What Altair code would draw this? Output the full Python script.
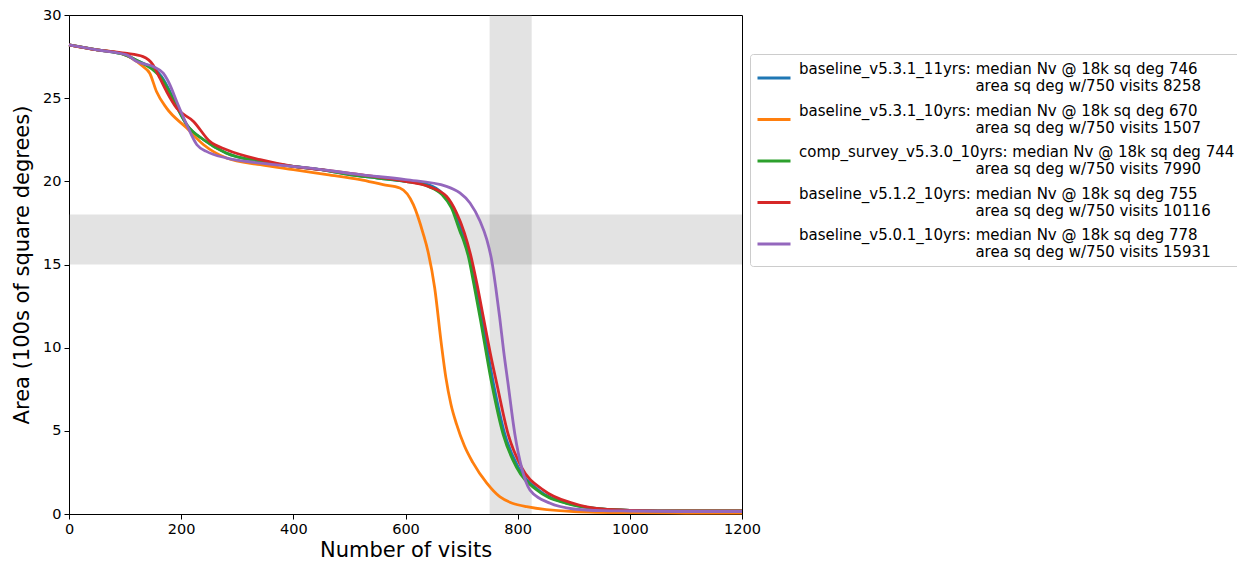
import altair as alt
import pandas as pd

# ---- data ----
names = ["baseline_v5.3.1_11yrs", "baseline_v5.3.1_10yrs", "comp_survey_v5.3.0_10yrs",
         "baseline_v5.1.2_10yrs", "baseline_v5.0.1_10yrs"]
median_nv = [746, 670, 744, 755, 778]
area_750 = [8258, 1507, 7990, 10116, 15931]
colors = ["#1f77b4", "#ff7f0e", "#2ca02c", "#d62728", "#9467bd"]

visits_blue = [0, 50, 100, 125, 150, 165, 180, 195, 210, 240, 280, 340, 400, 450, 500, 550, 600,
               640, 668, 685, 700, 707, 715, 725, 736, 757, 777, 801, 837, 890, 950, 1000, 1100, 1200]
area_blue = [28.2, 27.9, 27.6, 27.2, 26.8, 26.3, 25.4, 24.3, 23.4, 22.5, 21.7, 21.2, 20.9, 20.7, 20.4, 20.2, 20.0,
             19.8, 19.2, 18.4, 17.0, 16.4, 15.5, 13.8, 11.8, 7.8, 4.8, 2.8, 1.44, 0.64, 0.3, 0.22, 0.18, 0.18]

visits_orange = [0, 50, 91, 132, 144, 156, 174, 210, 240, 281, 341, 400, 460, 519, 560, 590, 614, 632,
                 640, 652, 664, 672, 681, 691, 705, 720, 745, 768, 816, 900, 1000, 1100, 1200]
area_orange = [28.2, 27.9, 27.7, 26.9, 26.5, 25.4, 24.4, 23.2, 22.2, 21.4, 21.0, 20.7, 20.4, 20.1, 19.8, 19.6, 18.6, 16.8,
               15.8, 13.6, 10.2, 8.2, 6.6, 5.4, 4.1, 3.1, 1.85, 1.04, 0.44, 0.15, 0.08, 0.06, 0.06]

visits_green = [0, 50, 100, 125, 150, 165, 180, 195, 210, 240, 280, 340, 400, 450, 500, 550, 600,
                640, 665, 682, 697, 704, 712, 722, 733, 754, 774, 798, 834, 887, 950, 1000, 1100, 1200]
area_green = [28.2, 27.9, 27.6, 27.2, 26.7, 26.2, 25.3, 24.3, 23.4, 22.5, 21.7, 21.2, 20.9, 20.7, 20.4, 20.2, 20.0,
              19.7, 19.2, 18.4, 17.0, 16.4, 15.5, 13.8, 11.8, 7.8, 4.8, 2.8, 1.44, 0.64, 0.3, 0.22, 0.18, 0.18]

visits_red = [0, 50, 100, 132, 150, 162, 174, 192, 222, 251, 281, 341, 400, 450, 519, 600, 640, 673,
              691, 705, 716, 727, 739, 751, 763, 783, 807, 846, 899, 950, 1000, 1100, 1200]
area_red = [28.2, 27.9, 27.7, 27.5, 27.0, 26.2, 25.4, 24.4, 23.6, 22.4, 21.9, 21.3, 20.9, 20.7, 20.4, 20.0, 19.7, 19.1,
            18.1, 16.9, 15.6, 13.9, 11.8, 9.7, 7.8, 4.8, 2.8, 1.44, 0.64, 0.3, 0.22, 0.18, 0.18]

visits_purple = [0, 50, 103, 121, 150, 168, 180, 192, 210, 228, 245, 281, 341, 430, 519, 600, 673, 697,
                 715, 733, 745, 754, 761, 768, 775, 783, 795, 807, 822, 858, 900, 950, 1000, 1100, 1200]
area_purple = [28.2, 27.9, 27.6, 27.2, 26.9, 26.5, 25.8, 24.8, 23.4, 22.2, 21.8, 21.4, 21.1, 20.8, 20.4, 20.1, 19.7, 19.3,
               18.7, 17.6, 16.5, 15.2, 13.6, 11.8, 9.8, 7.8, 4.8, 2.8, 1.44, 0.64, 0.3, 0.2, 0.18, 0.15, 0.15]

# shaded bands (visits 750-825, area 15-18)
band_visits = [750, 825]
band_area = [15, 18]
x_domain = [0, 1200]
y_domain = [0, 30]
x_ticks = [0, 200, 400, 600, 800, 1000, 1200]
y_ticks = [0, 5, 10, 15, 20, 25, 30]

# ---- build tables ----
ZW = "\u200b"   # keeps the indent from being trimmed
NB = "\u00a0"
labels = [f"{n}: median Nv @ 18k sq deg {m}|{ZW}{NB * 37}area sq deg w/750 visits {a}"
          for n, m, a in zip(names, median_nv, area_750)]

series = [(visits_blue, area_blue), (visits_orange, area_orange), (visits_green, area_green),
          (visits_red, area_red), (visits_purple, area_purple)]
rows = []
for i, (vx, ay) in enumerate(series):
    for v, a in zip(vx, ay):
        rows.append({"sid": i, "label": labels[i], "visits": v, "area": a})
df = pd.DataFrame(rows)

bands = pd.DataFrame([
    {"x0": band_visits[0], "x1": band_visits[1], "y0": y_domain[0], "y1": y_domain[1]},
    {"x0": x_domain[0], "x1": x_domain[1], "y0": band_area[0], "y1": band_area[1]},
])

xscale = alt.Scale(domain=x_domain, nice=False, zero=False)
yscale = alt.Scale(domain=y_domain, nice=False, zero=False)

xaxis = alt.Axis(values=x_ticks, title="Number of visits", labelFlush=False, labelOverlap=False,
                 format="d", titlePadding=4)
yaxis = alt.Axis(values=y_ticks, title="Area (100s of square degrees)", labelOverlap=False,
                 labelFlush=False, format="d", titlePadding=10)

band_layer = alt.Chart(bands).mark_rect(color="gray", opacity=0.22).encode(
    x=alt.X("x0:Q", scale=xscale, axis=xaxis),
    x2="x1:Q",
    y=alt.Y("y0:Q", scale=yscale, axis=yaxis),
    y2="y1:Q",
)

color_enc = alt.Color(
    "label:N",
    scale=alt.Scale(domain=labels, range=colors),
    title=None,
    legend=alt.Legend(
        orient="none", legendX=681, legendY=39,
        labelExpr="split(datum.label, '|')",
        labelBaseline="line-bottom",
        symbolType="stroke", symbolSize=1089, symbolStrokeWidth=2.8,
        labelOffset=7, rowPadding=7.5, padding=6,
        fillColor="white", strokeColor="#cccccc", cornerRadius=3,
        labelLimit=1000,
    ),
)

line_layers = []
for i in range(len(names)):
    line_layers.append(
        alt.Chart(df).transform_filter(alt.datum.sid == i).mark_line(
            strokeWidth=2.8, interpolate="monotone"
        ).encode(
            x=alt.X("visits:Q", scale=xscale, axis=xaxis),
            y=alt.Y("area:Q", scale=yscale, axis=yaxis),
            color=color_enc,
        )
    )

chart = alt.layer(band_layer, *line_layers).properties(
    width=673, height=499,
    padding={"left": 61, "top": 7, "right": 495, "bottom": 50},
    autosize=alt.AutoSizeParams(type="none"),
).configure_view(
    stroke="black", strokeWidth=1
).configure_axis(
    grid=False, domainColor="black", tickColor="black", labelColor="black",
    titleColor="black", labelFont="DejaVu Sans", titleFont="DejaVu Sans",
    labelFontSize=14.5, titleFontSize=21, titleFontWeight="normal",
    tickSize=5, labelPadding=3,
).configure_legend(
    labelFont="DejaVu Sans", labelFontSize=15, labelColor="black",
)

chart.save("out.html", embed_options={"renderer": "svg", "actions": False})
